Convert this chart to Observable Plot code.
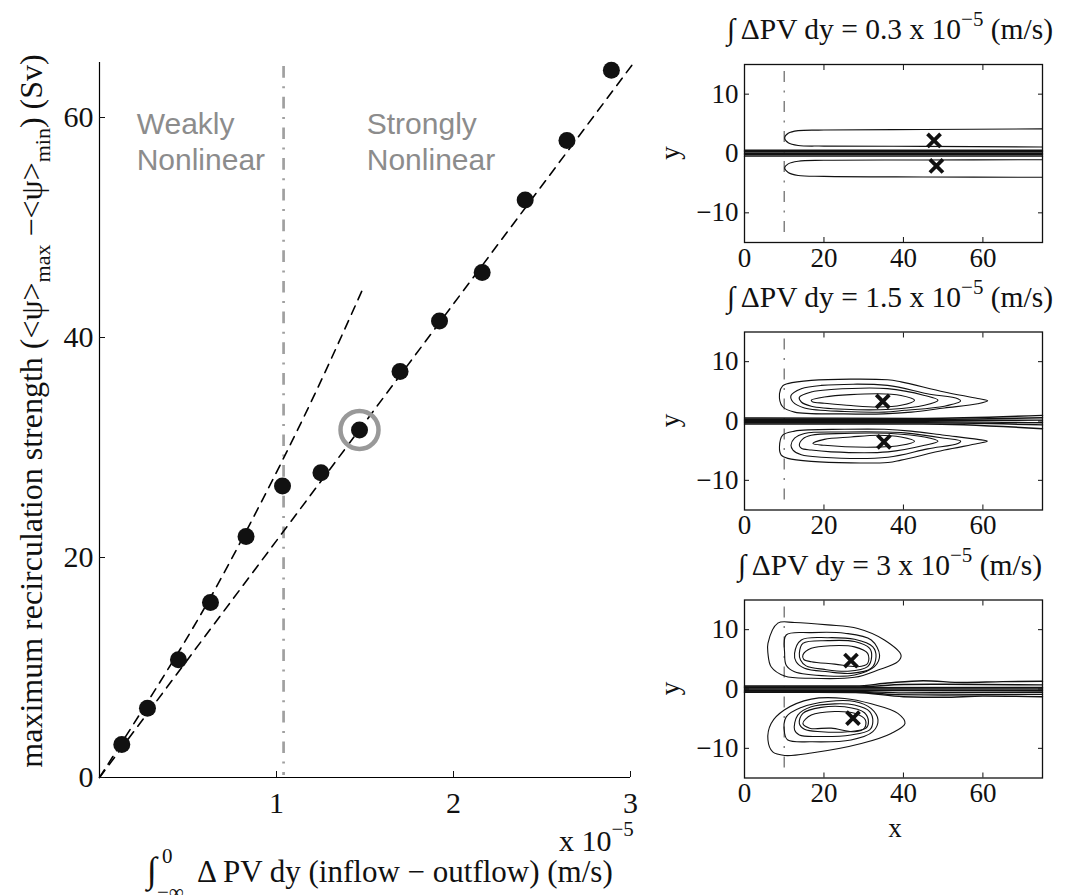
<!DOCTYPE html>
<html>
<head>
<meta charset="utf-8">
<script src="https://cdn.jsdelivr.net/npm/d3@7"></script>
<script src="https://cdn.jsdelivr.net/npm/@observablehq/plot@0.6"></script>
<style>
  body { margin: 0; background: #fff; }
  #fig { position: relative; width: 1069px; height: 895px; overflow: hidden; }
  #fig > svg { position: absolute; }
</style>
</head>
<body>
<div id="fig"></div>
<script>
// ---------- main panel: recirculation strength vs. integrated PV difference ----------
// integrated inflow-minus-outflow PV difference (units of 1e-5 m/s)
const pvFlux = [0.126, 0.271, 0.446, 0.627, 0.828, 1.034, 1.251, 1.469, 1.698, 1.921, 2.162, 2.405, 2.641, 2.892];
// maximum recirculation strength (Sv)
const recirc = [3.0, 6.3, 10.7, 15.9, 21.9, 26.5, 27.7, 31.6, 36.9, 41.5, 45.9, 52.5, 57.9, 64.3];
// run shown in the middle contour panel
const highlightedRun = 7;

// fit through the weakly nonlinear runs
const weakFitX = [0, 0.3, 0.6, 0.9, 1.2, 1.49];
const weakFitY = [0, 7.6, 15.6, 24.6, 34.3, 44.5];
// fit through the strongly nonlinear runs
const strongFitX = [0, 3.01];
const strongFitY = [0, 64.8];

// boundary between the two regimes
const regimeBoundary = 1.04;
const regimeNames = ["Weakly\nNonlinear", "Strongly\nNonlinear"];
const regimeNameX = [0.21, 1.51];
const regimeNameY = [60.8, 60.8];

const xTicks = [1, 2, 3];
const yTicks = [0, 20, 40, 60];

// ---------- streamfunction contour panels ----------
const panelFlux = ["0.3", "1.5", "3"];
const panelXTicks = [0, 20, 40, 60];
const panelYTicks = [-10, 0, 10];

// gyre centres (x, y) in each panel
const gyreCentres = [
  [[47.7, 2.2], [48.3, -2.1]],
  [[34.8, 3.3], [35.1, -3.5]],
  [[26.8, 4.8], [27.3, -4.9]]
];

// near-zero streamlines bunched along the jet axis
const jetLines = [
  [
    [[0, 0.55], [75, 0.55]],
    [[0, 0.3], [75, 0.3]],
    [[0, 0.05], [75, 0.05]],
    [[0, -0.2], [75, -0.2]],
    [[0, -0.45], [75, -0.45]]
  ],
  [
    [[0, 0.5], [45, 0.45], [75, 0.95]],
    [[0, 0.3], [45, 0.3], [75, 0.55]],
    [[0, 0.1], [45, 0.1], [75, 0.15]],
    [[0, -0.1], [45, -0.1], [75, -0.3]],
    [[0, -0.3], [45, -0.3], [75, -0.65]],
    [[0, -0.5], [45, -0.5], [75, -1.3]]
  ],
  [
    [[0, 0.5], [28, 0.5], [36, 1.0], [45, 1.4], [55, 1.1], [65, 1.25], [75, 1.3]],
    [[0, 0.35], [28, 0.35], [40, 0.75], [50, 0.8], [75, 0.7]],
    [[0, 0.2], [75, 0.25]],
    [[0, 0], [75, 0]],
    [[0, -0.2], [75, -0.3]],
    [[0, -0.35], [28, -0.4], [40, -0.65], [75, -0.55]],
    [[0, -0.5], [28, -0.5], [38, -0.95], [50, -1.0], [75, -0.9]],
    [[0, -0.55], [28, -0.6], [40, -1.3], [50, -1.4], [60, -1.2], [75, -1.3]]
  ]
];

// streamlines that leave through the eastern boundary (weakest forcing)
const openStreamlines = [
  [
    [[75, 4.15], [45, 4.05], [20, 3.95], [13.5, 3.85], [11, 3.4], [10.1, 2.6], [11, 1.8], [13.5, 1.35], [20, 1.25], [45, 1.2], [75, 1.1]],
    [[75, -1.05], [45, -1.1], [20, -1.15], [13.5, -1.3], [11, -1.75], [10.1, -2.45], [11, -3.2], [13.5, -3.7], [20, -3.85], [45, -3.95], [75, -4.0]]
  ],
  [],
  []
];

// closed recirculation streamlines
const closedStreamlines = [
  [],
  [
    // northern gyre
    [[8.8, 4.6], [9.6, 5.9], [10.9, 6.3], [16.8, 6.85], [36, 6.95], [39.4, 6.6], [50.3, 4.9], [58.7, 3.8], [61.2, 3.4], [58.7, 2.9], [50.3, 2.2], [42, 1.5], [35, 1.2], [25, 1.2], [12.6, 1.5], [9.6, 2.4]],
    [[11.7, 4.3], [14.3, 5.45], [19.3, 6.0], [36, 6.0], [46, 4.6], [53.7, 3.76], [54.4, 3.4], [50.3, 2.5], [40.3, 1.8], [35.2, 1.5], [25.2, 1.6], [15.1, 2.2], [12.2, 3.2]],
    [[13.8, 4.0], [16.8, 4.9], [21.8, 5.3], [36, 5.45], [45.3, 4.3], [48.7, 3.5], [45.3, 2.64], [36.9, 1.97], [25.2, 1.97], [16.8, 2.5], [14.3, 3.2]],
    [[16.8, 3.5], [20.1, 4.05], [33.6, 4.6], [39.4, 4.3], [42.8, 3.5], [39.4, 2.64], [33.6, 2.36], [26.8, 2.6], [20.1, 3.0], [17.2, 3.2]],
    // southern gyre
    [[8.8, -4.4], [9.6, -2.4], [12.6, -1.7], [25.2, -1.4], [35.2, -1.4], [41.9, -1.7], [50.3, -2.4], [58.7, -3.1], [61.1, -3.4], [58.7, -3.8], [50.3, -4.9], [39.4, -6.6], [36.1, -7.0], [16.8, -6.8], [10.9, -6.3], [9.2, -5.7]],
    [[11.7, -4.1], [12.6, -2.9], [15.1, -2.1], [25.2, -1.85], [35.2, -1.85], [40.3, -2.0], [50.3, -2.9], [54.4, -3.4], [53.7, -3.8], [46.1, -4.7], [36.1, -6.1], [19.3, -6.1], [14.3, -5.7], [12.2, -4.9]],
    [[13.8, -4.1], [14.7, -3.0], [16.8, -2.4], [25.2, -2.1], [36.9, -2.1], [45.3, -2.7], [48.7, -3.4], [45.3, -4.1], [36.1, -5.2], [21.8, -5.2], [16.8, -4.9], [14.3, -4.6]],
    [[17.2, -3.8], [20.1, -3.1], [26.8, -2.7], [33.6, -2.4], [39.4, -2.7], [42.8, -3.4], [39.4, -4.1], [33.6, -4.4], [20.1, -4.1]]
  ],
  [
    // northern gyre
    [[5.9, 7.7], [8.4, 11.1], [12.6, 11.2], [21, 10.8], [28.5, 10.2], [35.2, 8.26], [39.4, 5.7], [38.6, 4.6], [33.6, 3.2], [27.7, 1.97], [16.8, 1.8], [10.1, 2.2], [6.7, 3.76], [5.9, 6.0]],
    [[10.1, 6.0], [10.5, 9.1], [16.8, 9.5], [25.2, 9.4], [31.9, 8.26], [34, 5.7], [32.7, 3.76], [27.7, 2.36], [21, 2.2], [12.6, 2.9], [10.5, 4.0]],
    [[12.6, 6.0], [14.3, 8.26], [21, 8.65], [27.7, 8.37], [32.3, 7.1], [33.1, 5.45], [31.9, 3.5], [26.8, 2.64], [21, 2.9], [15.1, 3.5], [13, 4.6]],
    [[13.8, 6.0], [14.7, 7.7], [21, 8.15], [27.7, 8.0], [31.5, 6.85], [32, 5.45], [31, 3.76], [26, 3.0], [20.1, 3.3], [15.5, 3.9], [14.1, 4.9]],
    [[14.7, 5.73], [16.8, 6.85], [21.8, 7.3], [27.7, 7.1], [31, 6.0], [31, 4.3], [28.5, 3.76], [22.7, 4.2], [16.8, 4.6], [14.9, 5.0]],
    // southern gyre
    [[5.9, -8.6], [6.7, -5.8], [10.1, -3.5], [16.8, -1.7], [25.2, -1.6], [31.9, -2.5], [38.6, -4.1], [40.4, -5.8], [36.9, -7.5], [29.4, -9.2], [16.8, -10.8], [10.1, -11.2], [7.1, -10.6]],
    [[10.1, -7.5], [10.5, -4.7], [14.3, -3.1], [21, -2.1], [27.7, -2.1], [31.9, -3.3], [33.6, -5.2], [32.3, -7.2], [26.8, -8.6], [16.8, -8.9], [10.9, -8.6]],
    [[12.6, -6.9], [13.4, -4.4], [16.8, -3.0], [22.7, -2.5], [27.7, -2.7], [31.5, -3.8], [32.3, -5.5], [31.5, -6.9], [26.8, -7.75], [18.5, -8.0], [13.8, -7.75]],
    [[13.8, -5.8], [14.7, -4.1], [19.3, -3.1], [25.2, -3.0], [30.2, -4.0], [31.2, -5.5], [30.6, -6.6], [26, -7.2], [19.3, -7.2], [15.1, -6.8]],
    [[14.7, -5.8], [16.8, -4.4], [22.7, -3.8], [27.7, -4.1], [30.4, -5.2], [30.2, -6.6], [27.7, -7.2], [21.8, -6.6], [16.4, -6.6]]
  ]
];

// frame of each contour panel inside the figure
const panelTop = [0, 270, 540];
const panelHeight = [290, 290, 355];
const panelMarginTop = [64, 61.5, 59.5];

const serif = "'Liberation Serif', 'Times New Roman', Times, serif";
const sans = "'Liberation Sans', Arial, Helvetica, sans-serif";
const fig = document.getElementById("fig");

// ---------- main panel ----------
const runs = pvFlux.map((x, i) => ({x, y: recirc[i]}));
const weakFit = weakFitX.map((x, i) => ({x, y: weakFitY[i]}));
const strongFit = strongFitX.map((x, i) => ({x, y: strongFitY[i]}));
const regimeText = regimeNames.map((t, i) => ({t, x: regimeNameX[i], y: regimeNameY[i]}));

const main = Plot.plot({
  width: 650,
  height: 895,
  marginLeft: 99,
  marginRight: 20,
  marginTop: 62,
  marginBottom: 118,
  x: {domain: [0, 3]},
  y: {domain: [0, 65]},
  style: {fontFamily: serif, fontSize: "30px", color: "#111", background: "transparent", overflow: "visible"},
  marks: [
    Plot.ruleX([regimeBoundary], {stroke: "#a0a0a0", strokeWidth: 2.7, strokeDasharray: "11.7,8.5,2,8.5", insetTop: 4, insetBottom: 2}),
    Plot.text(regimeText, {x: "x", y: "y", text: "t", textAnchor: "start", lineAnchor: "top", lineHeight: 1.2,
      fontFamily: sans, fontSize: 30, fill: "#8c8c8c"}),
    Plot.line(strongFit, {x: "x", y: "y", stroke: "#000", strokeWidth: 1.6, strokeDasharray: "9,7"}),
    Plot.line(weakFit, {x: "x", y: "y", stroke: "#000", strokeWidth: 1.6, strokeDasharray: "9,7", curve: "natural"}),
    Plot.dot([runs[highlightedRun]], {x: "x", y: "y", r: 19, stroke: "#999", strokeWidth: 4.5, fill: "none"}),
    Plot.dot(runs, {x: "x", y: "y", r: 8.5, fill: "#111"}),
    Plot.ruleX([0], {stroke: "#000", strokeWidth: 1.2}),
    Plot.ruleY([0], {stroke: "#000", strokeWidth: 1.2}),
    Plot.axisY(yTicks, {anchor: "left", tickSize: -6, tickFormat: () => "", label: null}),
    Plot.axisY(yTicks, {anchor: "left", tickSize: 0, tickPadding: 6, label: null, tickFormat: (d) => String(d)}),
    Plot.axisX(xTicks, {anchor: "bottom", tickSize: -6, tickFormat: () => "", label: null}),
    Plot.axisX(xTicks, {anchor: "bottom", tickSize: 0, tickPadding: 14, label: null, tickFormat: (d) => String(d)})
  ]
});
main.style.left = "0px";
main.style.top = "0px";
fig.appendChild(main);

{
  const svg = d3.select(main);
  // y-axis title with subscripts
  const yl = svg.append("text")
    .attr("transform", "translate(42,411) rotate(-90)")
    .attr("text-anchor", "middle").attr("font-family", serif).attr("font-size", 32).attr("fill", "#111");
  yl.append("tspan").text("maximum recirculation strength (<ψ>");
  yl.append("tspan").attr("font-size", 22).attr("dy", 8).text("max");
  yl.append("tspan").attr("dy", -8).text(" −<ψ>");
  yl.append("tspan").attr("font-size", 22).attr("dy", 8).text("min");
  yl.append("tspan").attr("dy", -8).text(") (Sv)");

  // axis multiplier
  const mult = svg.append("text").attr("x", 559).attr("y", 851).attr("text-anchor", "start")
    .attr("font-family", serif).attr("font-size", 30).attr("fill", "#111");
  mult.append("tspan").text("x 10");
  mult.append("tspan").attr("font-size", 21).attr("dy", -15).text("−5");

  // x-axis title with the integral limits
  const xl = svg.append("text").attr("x", 147).attr("y", 882).attr("text-anchor", "start")
    .attr("font-family", serif).attr("font-size", 31).attr("fill", "#111");
  xl.append("tspan").attr("font-size", 36).text("∫");
  xl.append("tspan").attr("x", 162).attr("dy", -19).attr("font-size", 21).text("0");
  xl.append("tspan").attr("x", 157).attr("dy", 36).attr("font-size", 21).text("−∞");
  xl.append("tspan").attr("x", 197).attr("dy", -17).text("Δ PV dy (inflow − outflow) (m/s)");
}

// ---------- contour panels ----------
const toRows = (lines) => lines.flatMap((pts, k) => pts.map(([x, y]) => ({x, y, k})));

panelFlux.forEach((flux, i) => {
  const height = panelHeight[i];
  const marginTop = panelMarginTop[i];
  const boxHeight = 178;
  const p = Plot.plot({
    width: 419,
    height,
    marginLeft: 94,
    marginRight: 27,
    marginTop,
    marginBottom: height - marginTop - boxHeight,
    x: {domain: [0, 75]},
    y: {domain: [-15, 15]},
    style: {fontFamily: serif, fontSize: "27px", color: "#111", background: "transparent", overflow: "visible"},
    marks: [
      Plot.ruleX([10], {stroke: "#7a7a7a", strokeWidth: 1.4, strokeDasharray: "11,8.5,2,8.5", insetTop: 7, insetBottom: 8}),
      Plot.line(toRows(jetLines[i]), {x: "x", y: "y", z: "k", curve: "monotone-x", stroke: "#111", strokeWidth: 1.4}),
      Plot.line(toRows(openStreamlines[i]), {x: "x", y: "y", z: "k", curve: "catmull-rom", stroke: "#111", strokeWidth: 1.1}),
      Plot.line(toRows(closedStreamlines[i]), {x: "x", y: "y", z: "k", curve: "catmull-rom-closed", stroke: "#111", strokeWidth: 1.1}),
      Plot.dot(gyreCentres[i], {x: (d) => d[0], y: (d) => d[1], symbol: "times", r: 6, stroke: "#111", strokeWidth: 3.8}),
      Plot.frame({stroke: "#111", strokeWidth: 1.3}),
      Plot.axisX(panelXTicks, {anchor: "bottom", tickSize: -5, tickFormat: () => "", label: null}),
      Plot.axisX(panelXTicks, {anchor: "top", tickSize: -5, tickFormat: () => "", label: null}),
      Plot.axisY(panelYTicks, {anchor: "left", tickSize: -5, tickFormat: () => "", label: null}),
      Plot.axisY(panelYTicks, {anchor: "right", tickSize: -5, tickFormat: () => "", label: null}),
      Plot.axisX(panelXTicks, {anchor: "bottom", tickSize: 0, tickPadding: 5, label: null}),
      Plot.axisY(panelYTicks, {anchor: "left", tickSize: 0, tickPadding: 6, label: null, tickFormat: (d) => d < 0 ? "−" + Math.abs(d) : String(d)})
    ]
  });
  p.style.left = "650px";
  p.style.top = panelTop[i] + "px";
  fig.appendChild(p);

  const svg = d3.select(p);
  const title = svg.append("text").attr("x", 240).attr("y", marginTop - 25)
    .attr("text-anchor", "middle").attr("font-family", serif).attr("font-size", 29.5).attr("fill", "#111");
  title.append("tspan").text(`∫ ΔPV dy = ${flux} x 10`);
  title.append("tspan").attr("font-size", 21).attr("dy", -13).text("−5");
  title.append("tspan").attr("dy", 13).text(" (m/s)");

  svg.append("text")
    .attr("transform", `translate(29,${marginTop + boxHeight / 2}) rotate(-90)`)
    .attr("text-anchor", "middle").attr("font-family", serif).attr("font-size", 27).attr("fill", "#111")
    .text("y");

  if (i === panelFlux.length - 1) {
    svg.append("text").attr("x", 245).attr("y", marginTop + boxHeight + 59)
      .attr("text-anchor", "middle").attr("font-family", serif).attr("font-size", 27).attr("fill", "#111")
      .text("x");
  }
});
</script>
</body>
</html>
